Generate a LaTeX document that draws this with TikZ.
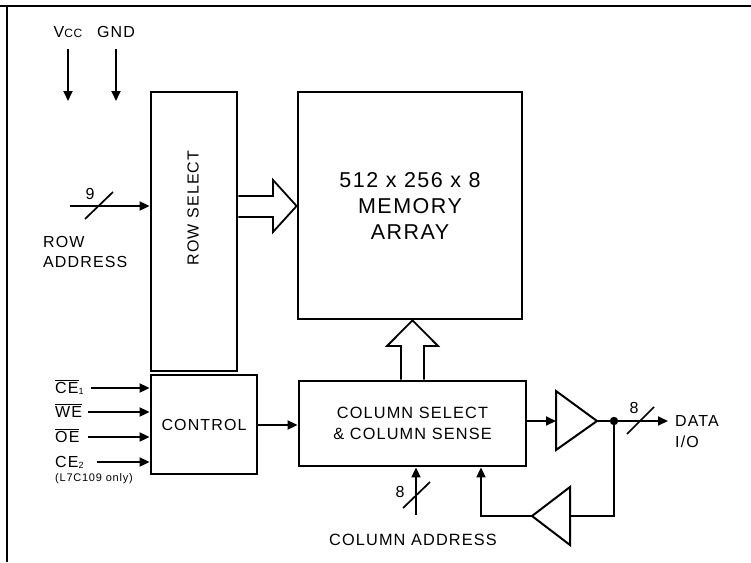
\documentclass[tikz,border=0pt]{standalone}
\usepackage{fontspec}
\setmainfont{Liberation Sans}[LetterSpace=7]
\usetikzlibrary{arrows.meta,calc}
\begin{document}
\begin{tikzpicture}[x=1pt,y=-1pt,
  box/.style={draw,line width=2.8pt,inner sep=0pt,align=center},
  wire/.style={line width=1.8pt},
  arr/.style={wire,-{Triangle[length=10pt,width=9pt]}},
  lbl/.style={inner sep=0pt,font=\fontsize{16}{19}\selectfont},
  small/.style={inner sep=0pt,font=\fontsize{11}{13}\selectfont},
  big/.style={font=\fontsize{21.5}{26}\selectfont},
  mid/.style={font=\fontsize{16.3}{21}\selectfont},
  bus/.style={line width=1.7pt},
  hollow/.style={line width=1.8pt,fill=white,line join=miter}
  ]
\useasboundingbox (0,0) rectangle (751,562);
% frame
\draw[line width=2.2pt] (0,6) -- (751,6);
\draw[line width=2.2pt] (7,5) -- (7,562);
% supplies
\node[lbl,anchor=base] (vcc) at (68,37) {V{\fontsize{12}{13}\selectfont CC}};
\node[lbl,anchor=base] (gnd) at (116,37) {GND};
\coordinate (vcctip) at (68,101);
\coordinate (gndtip) at (116,101);
\draw[arr] ([yshift=-12pt]vcc.south) -- (vcctip);
\draw[arr] ([yshift=-12pt]gnd.south) -- (gndtip);
% blocks
\node[box,minimum width=86,minimum height=279] (rowsel) at (194,231.5) {};
\node[lbl,rotate=90] (rowseltxt) at (193,208) {ROW SELECT};
\node[box,big,minimum width=224,minimum height=227] (mem) at (410,205.5) {512 x 256 x 8\\MEMORY\\ARRAY};
\node[box,mid,minimum width=227,minimum height=85] (col) at (412.5,423.5) {COLUMN SELECT\\\& COLUMN SENSE};
\node[box,lbl,minimum width=106,minimum height=99] (ctrl) at (204,424.5) {CONTROL};
% row address
\coordinate (ra) at (70,206);
\draw[arr] (ra) -- (rowsel.west |- ra);
\draw[bus] (85,219) -- (113,192);
\node[lbl] (nine) at (90,194) {9};
\node[lbl,align=left,anchor=west,font=\fontsize{16}{20}\selectfont] (ratxt) at (43,252) {ROW\\ADDRESS};
% hollow arrow row select -> memory
\draw[hollow] (rowsel.east |- 0,196) -- (273,196) -- (273,180) -- (mem.west |- 0,206)
   -- (273,232) -- (273,217) -- (rowsel.east |- 0,217);
% hollow arrow column -> memory
\draw[hollow] (401,0 |- col.north) -- (401,346) -- (387,346) -- (col.north |- mem.south)
   -- (438,346) -- (424,346) -- (424,0 |- col.north);
% control inputs
\node[lbl,anchor=base west] (ce1) at (55,393) {$\overline{\mbox{CE}}$\raisebox{-1pt}{\fontsize{9}{10}\selectfont 1}};
\node[lbl,anchor=base west] (we) at (55,417) {$\overline{\mbox{WE}}$};
\node[lbl,anchor=base west] (oe) at (55,442) {$\overline{\mbox{OE}}$};
\node[lbl,anchor=base west] (ce2) at (55,467) {CE\raisebox{-1pt}{\fontsize{9}{10}\selectfont 2}};
\node[small,anchor=base west] (only) at (55,481) {(L7C109 only)};
\coordinate (i1) at (91,388);
\coordinate (i2) at (88,412);
\coordinate (i3) at (88,437);
\coordinate (i4) at (97,462);
\draw[arr] (i1) -- (ctrl.west |- i1);
\draw[arr] (i2) -- (ctrl.west |- i2);
\draw[arr] (i3) -- (ctrl.west |- i3);
\draw[arr] (i4) -- (ctrl.west |- i4);
\coordinate (cc) at (0,425);
\draw[arr] (ctrl.east |- cc) -- (col.west |- cc);
% output buffer
\coordinate (b1in) at (556,421);
\coordinate (b1out) at (597,421);
\draw[line width=2pt,line join=miter] (556,391) -- (b1out) -- (556,450) -- cycle;
\draw[arr] (col.east |- b1in) -- (b1in);
\coordinate (dot) at (614,421);
\draw[wire] (b1out) -- (dot);
\fill (dot) circle (4.2pt);
\coordinate (dout) at (668,421);
\draw[arr] (dot) -- (dout);
\draw[bus] (627,434) -- (654,407);
\node[lbl] (eightd) at (634,408) {8};
\node[lbl,align=left,anchor=west,font=\fontsize{16}{21}\selectfont] (data) at (675,431.5) {DATA\\I/O};
% feedback buffer
\coordinate (b2in) at (570,516);
\coordinate (b2out) at (532,516);
\draw[line width=2pt,line join=miter] (570,487) -- (570,545) -- (b2out) -- cycle;
\draw[wire] (dot) -- (dot |- b2in) -- (b2in);
\draw[arr] (b2out) -- (481,516) -- (481,0 |- col.south);
% column address
\coordinate (ca) at (416,515);
\draw[arr] (ca) -- (ca |- col.south);
\draw[bus] (403,508) -- (430,482);
\node[lbl] (eightc) at (400,492) {8};
\node[lbl,font=\fontsize{16.3}{18}\selectfont] (catxt) at (413,540) {COLUMN ADDRESS};
\end{tikzpicture}
\end{document}
